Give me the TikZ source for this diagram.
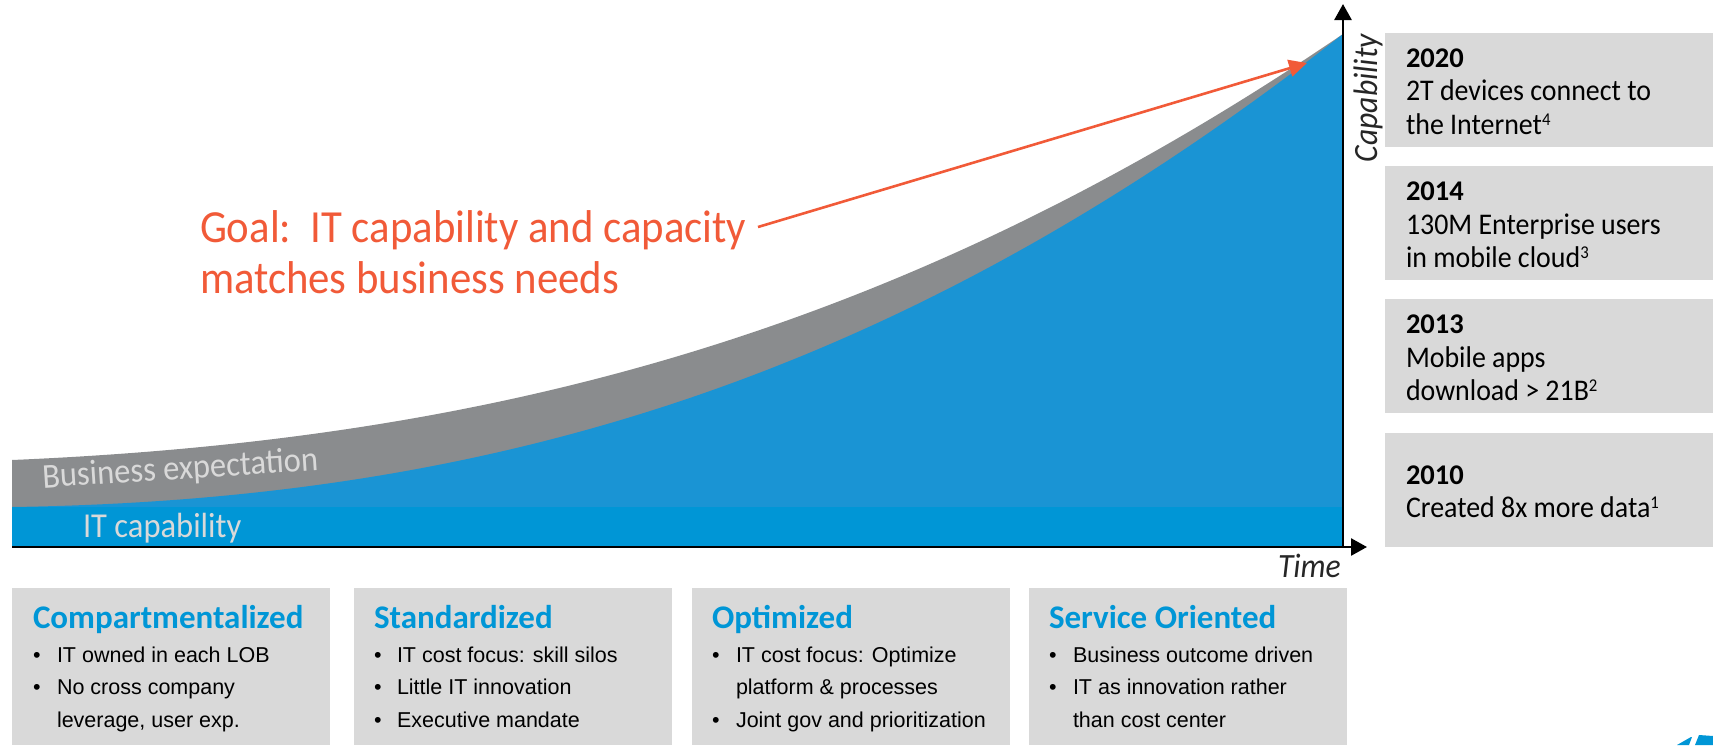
\documentclass[tikz,border=0pt]{standalone}
\usepackage{fontspec}
\setmainfont[FakeStretch=0.93,BoldFont={Carlito Bold},BoldFeatures={FakeStretch=1.0}]{Carlito}
\newfontfamily\arialf{Liberation Sans}
\usetikzlibrary{arrows.meta}
\definecolor{boxgray}{HTML}{D9D9D9}
\definecolor{bizgray}{HTML}{8A8C8E}
\definecolor{itblue}{HTML}{1A94D4}
\definecolor{bandblue}{HTML}{0096D6}
\definecolor{goalred}{HTML}{F15A38}
\newcommand{\supnum}[1]{\raisebox{9pt}{\fontsize{18}{18}\selectfont #1}}
\tikzset{
  panel/.style={fill=boxgray,draw=none,inner sep=0pt,anchor=north west},
  txt/.style={anchor=base west,inner sep=0pt,outer sep=0pt},
  year/.style={txt,font=\fontsize{28.5}{28.5}\selectfont\bfseries,text=black},
  fact/.style={txt,font=\fontsize{30}{30}\selectfont,text=black},
  stagehead/.style={txt,font=\fontsize{33}{33}\selectfont\bfseries,text=bandblue},
  item/.style={txt,font=\arialf\fontsize{21.5}{21.5}\selectfont,text=black},
  dot/.style={txt,font=\arialf\fontsize{21.5}{21.5}\selectfont,text=black},
  goal/.style={txt,font=\fontsize{46}{46}\selectfont,text=goalred},
  band/.style={txt,font=\fontsize{35}{35}\selectfont,text=boxgray},
  axis/.style={draw=black,line width=2.6pt,-{Triangle[length=16pt,width=17pt]}},
  axlabel/.style={font=\fontsize{34}{34}\selectfont\itshape,text=black!85}
}
\begin{document}
\begin{tikzpicture}[x=1pt,y=-1pt]
\useasboundingbox (0,0) rectangle (1713,745);
% areas
\fill[bizgray] (12,460) .. controls (480,440) and (893,340) .. (1343,34) -- (1343,547) -- (12,547) -- cycle;
\fill[itblue] (12,507) .. controls (480,500) and (893,386) .. (1343,34) -- (1343,547) -- (12,547) -- cycle;
\fill[bandblue] (12,507) rectangle (1343,547);
% axes
\coordinate (origin) at (1343,547);
\coordinate (xstart) at (12,547);
\coordinate (xend) at (1367,547);
\coordinate (yend) at (1343,4);
\draw[axis] (xstart) -- (xend);
\draw[axis] (origin) -- (yend);
\node[axlabel,anchor=base east,inner sep=0pt] (timelabel) at (1341,577) {Time};
\node[axlabel,anchor=base,rotate=90,inner sep=0pt] (caplabel) at (1377,98) {Capability};
% band labels
\node[band,rotate=3.7] (bizlabel) at (43,488) {Business expectation};
\node[band] (itlabel) at (83,537) {IT capability};
% goal
\node[goal] (goal1) at (200,242) {Goal:\ \ IT capability and capacity};
\node[goal] (goal2) at (200,293) {matches business needs};
\coordinate (goalstart) at (758,227);
\coordinate (goalend) at (1307,63);
\draw[goalred,line width=2.6pt,-{Triangle[length=18pt,width=17pt]}] (goalstart) -- (goalend);
% right panels
\node[panel,minimum width=328pt,minimum height=114pt] (p2020) at (1385,33) {};
\node[panel,minimum width=328pt,minimum height=114pt] (p2014) at (1385,166) {};
\node[panel,minimum width=328pt,minimum height=114pt] (p2013) at (1385,299) {};
\node[panel,minimum width=328pt,minimum height=114pt] (p2010) at (1385,433) {};
\node[year] (y20) at (1406,67) {2020};
\node[fact] (f20a) at (1406,100) {2T devices connect to};
\node[fact] (f20b) at (1406,134) {the Internet\supnum{4}};
\node[year] (y14) at (1406,200) {2014};
\node[fact] (f14a) at (1406,234) {130M Enterprise users};
\node[fact] (f14b) at (1406,267) {in mobile cloud\supnum{3}};
\node[year] (y13) at (1406,333) {2013};
\node[fact] (f13a) at (1406,367) {Mobile apps};
\node[fact] (f13b) at (1406,400) {download > 21B\supnum{2}};
\node[year] (y10) at (1406,484) {2010};
\node[fact] (f10a) at (1406,517) {Created 8x more data\supnum{1}};
% bottom panels
\node[panel,minimum width=318pt,minimum height=157pt] (s1) at (12,588) {};
\node[panel,minimum width=318pt,minimum height=157pt] (s2) at (354,588) {};
\node[panel,minimum width=318pt,minimum height=157pt] (s3) at (692,588) {};
\node[panel,minimum width=318pt,minimum height=157pt] (s4) at (1029,588) {};
% stage 1
\node[stagehead] (h1) at (33,628) {Compartmentalized};
\node[dot] at (33,662) {•};\node[item] at (57,662) {IT owned in each LOB};
\node[dot] at (33,694) {•};\node[item] at (57,694) {No cross company};
\node[item] at (57,727) {leverage, user exp.};
% stage 2
\node[stagehead] (h2) at (374,628) {Standardized};
\node[dot] at (374,662) {•};\node[item] at (397,662) {IT cost focus: skill silos};
\node[dot] at (374,694) {•};\node[item] at (397,694) {Little IT innovation};
\node[dot] at (374,727) {•};\node[item] at (397,727) {Executive mandate};
% stage 3
\node[stagehead] (h3) at (712,628) {Optimized};
\node[dot] at (712,662) {•};\node[item] at (736,662) {IT cost focus: Optimize};
\node[item] at (736,694) {platform \& processes};
\node[dot] at (712,727) {•};\node[item] at (736,727) {Joint gov and prioritization};
% stage 4
\node[stagehead] (h4) at (1049,628) {Service Oriented};
\node[dot] at (1049,662) {•};\node[item] at (1073,662) {Business outcome driven};
\node[dot] at (1049,694) {•};\node[item] at (1073,694) {IT as innovation rather};
\node[item] at (1073,727) {than cost center};
% logo fragment
\fill[bandblue] (1677,745) -- (1691,737) -- (1692,737) -- (1689,745) -- cycle;
\fill[bandblue] (1695,745) -- (1699,735) -- (1713,736) -- (1713,745) -- cycle;
\end{tikzpicture}
\end{document}
